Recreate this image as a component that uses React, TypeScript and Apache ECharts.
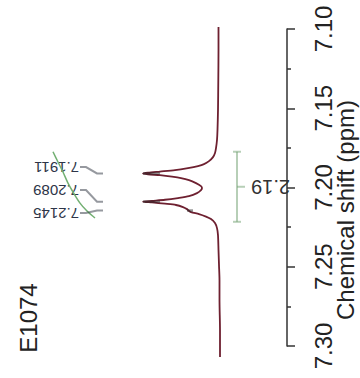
import { useEffect, useRef } from "react";
import * as echarts from "echarts";

// ---- data ----
const axisMin = 7.1;
const axisMax = 7.3;
const axisInterval = 0.05;
const axisTitle = "Chemical shift (ppm)";
const sampleName = "E1074";

// spectrum (chemical shift in ppm, intensity in arbitrary units)
const spectrumPpm = [
  7.0987, 7.1132, 7.1322, 7.1511, 7.1637, 7.17, 7.1751, 7.1782, 7.1808, 7.1833,
  7.1852, 7.1864, 7.1877, 7.189, 7.1899, 7.1906, 7.1911, 7.1916, 7.1922, 7.1931,
  7.194, 7.1953, 7.1972, 7.1991, 7.2003, 7.2016, 7.2035, 7.2054, 7.2066, 7.2077,
  7.2084, 7.2089, 7.2094, 7.2102, 7.211, 7.2123, 7.2136, 7.2145, 7.2155, 7.2167,
  7.2183, 7.2199, 7.2224, 7.2256, 7.23, 7.2394, 7.2489, 7.2584, 7.271, 7.2899,
  7.3069,
];
const spectrumIntensity = [
  1.5, 1.5, 1.7, 2, 2.5, 3, 4, 5, 7, 11,
  16, 22, 32, 45, 60, 72, 77, 72, 60, 48,
  39, 31, 24, 19, 18, 19, 23, 31, 42, 55,
  68, 77, 68, 55, 44, 37, 33, 31.5, 29, 21,
  14, 9, 5, 3, 2, 1.5, 1, 0.5, 0.5, 0,
  0,
];

// picked peaks
const peakPpm = [7.1911, 7.2089, 7.2145];
const peakLabels = ["7.1911", "7.2089", "7.2145"];
const peakLabelPpm = [7.1871, 7.2016, 7.2161];
const peakMarkIntensity = [
  [77, 60],
  [77, 60],
  [33, 27],
];

// integral
const integralFrom = 7.1774;
const integralTo = 7.2216;
const integralText = "2.19";
const integralCurvePpm = [7.1774, 7.1839, 7.1902, 7.1972, 7.2028, 7.2098, 7.2148, 7.2192];
const integralCurveValue = [167, 162, 157, 152, 147, 140, 133, 125];

const FONT = "'Liberation Sans', Arial, sans-serif";

export default function App() {
  const ref = useRef<HTMLDivElement>(null);

  useEffect(() => {
    if (!ref.current) return;
    const chart = echarts.init(ref.current, undefined, { renderer: "svg" });

    const spectrum = spectrumPpm.map((p, i) => [spectrumIntensity[i], p]);
    const integralCurve = integralCurvePpm.map((p, i) => [integralCurveValue[i], p]);

    const markerLines: any[] = [];
    peakPpm.forEach((p, i) => {
      markerLines.push({
        coords: [
          [peakMarkIntensity[i][0], p],
          [peakMarkIntensity[i][1], p],
        ],
        lineStyle: { color: "#2a2a2a", width: 2.5 },
      });
      markerLines.push({
        coords: [
          [140, peakLabelPpm[i]],
          [134, peakLabelPpm[i]],
          [123, p],
          [117, p],
        ],
        lineStyle: { color: "#2e3340", width: 2 },
      });
    });
    const mid = (integralFrom + integralTo) / 2;
    const green = "#6f9f6f";
    markerLines.push({
      coords: [
        [-17, integralFrom],
        [-17, integralTo],
      ],
      lineStyle: { color: green, width: 2 },
    });
    markerLines.push({
      coords: [
        [-13, integralFrom],
        [-21, integralFrom],
      ],
      lineStyle: { color: green, width: 2 },
    });
    markerLines.push({
      coords: [
        [-13, integralTo],
        [-21, integralTo],
      ],
      lineStyle: { color: green, width: 2 },
    });
    markerLines.push({
      coords: [
        [-17, mid],
        [-25, mid],
      ],
      lineStyle: { color: green, width: 2 },
    });

    chart.setOption({
      animation: false,
      backgroundColor: "#ffffff",
      grid: [
        { left: 40, right: 73, top: 29, bottom: 32 },
        { left: 40, right: 60, top: 27, bottom: 21 },
      ],
      xAxis: [
        { gridIndex: 0, type: "value", show: false, min: 0, max: 1 },
        { gridIndex: 1, type: "value", show: false, min: -80, max: 180, inverse: true },
      ],
      yAxis: [
        {
          gridIndex: 0,
          type: "value",
          position: "right",
          min: axisMin,
          max: axisMax,
          interval: axisInterval,
          inverse: true,
          axisLine: { show: true, onZero: false, lineStyle: { color: "#333", width: 1.5 } },
          axisTick: { show: true, length: 8, lineStyle: { color: "#333", width: 1.5 } },
          minorTick: { show: true, splitNumber: 2, length: 4, lineStyle: { color: "#333", width: 1.5 } },
          splitLine: { show: false },
          minorSplitLine: { show: false },
          axisLabel: {
            rotate: 90,
            margin: 24,
            fontSize: 24,
            color: "#222",
            fontFamily: FONT,
            formatter: (v: number) => v.toFixed(2),
          },
        },
        { gridIndex: 1, type: "value", show: false, min: 7.0987, max: 7.3069, inverse: true },
      ],
      series: [
        {
          type: "line",
          xAxisIndex: 1,
          yAxisIndex: 1,
          data: spectrum,
          showSymbol: false,
          smooth: 0.25,
          lineStyle: { color: "#6e2030", width: 1.8 },
          z: 3,
        },
        {
          type: "line",
          xAxisIndex: 1,
          yAxisIndex: 1,
          data: integralCurve,
          showSymbol: false,
          smooth: 0.3,
          lineStyle: { color: "#73b073", width: 1.5 },
          z: 2,
        },
        {
          type: "lines",
          coordinateSystem: "cartesian2d",
          xAxisIndex: 1,
          yAxisIndex: 1,
          polyline: true,
          data: markerLines,
          z: 4,
        },
      ],
    });

    const toPx = (v: number, p: number) =>
      chart.convertToPixel({ xAxisIndex: 1, yAxisIndex: 1 }, [v, p]) as number[];

    const graphics: any[] = [];
    peakLabels.forEach((t, i) => {
      const pt = toPx(141, peakLabelPpm[i]);
      graphics.push({
        type: "text",
        x: pt[0],
        y: pt[1],
        rotation: Math.PI,
        style: {
          text: t,
          fill: "#2e3548",
          fontSize: 15,
          fontFamily: FONT,
          align: "left",
          verticalAlign: "middle",
        },
      });
    });
    const ip = toPx(-70, mid);
    graphics.push({
      type: "text",
      x: ip[0],
      y: ip[1],
      rotation: Math.PI,
      style: {
        text: integralText,
        fill: "#333",
        fontSize: 20,
        fontFamily: FONT,
        align: "left",
        verticalAlign: "middle",
      },
    });
    graphics.push({
      type: "text",
      x: 28,
      y: 318,
      rotation: Math.PI / 2,
      style: {
        text: sampleName,
        fill: "#222",
        fontSize: 24,
        fontFamily: FONT,
        align: "center",
        verticalAlign: "middle",
      },
    });
    graphics.push({
      type: "text",
      x: 345,
      y: 210,
      rotation: Math.PI / 2,
      style: {
        text: axisTitle,
        fill: "#222",
        fontSize: 24,
        fontFamily: FONT,
        align: "center",
        verticalAlign: "middle",
      },
    });
    chart.setOption({ graphic: graphics });

    return () => chart.dispose();
  }, []);

  return (
    <div
      ref={ref}
      style={{ position: "fixed", left: 0, top: 0, width: 360, height: 378, background: "#fff" }}
    />
  );
}
